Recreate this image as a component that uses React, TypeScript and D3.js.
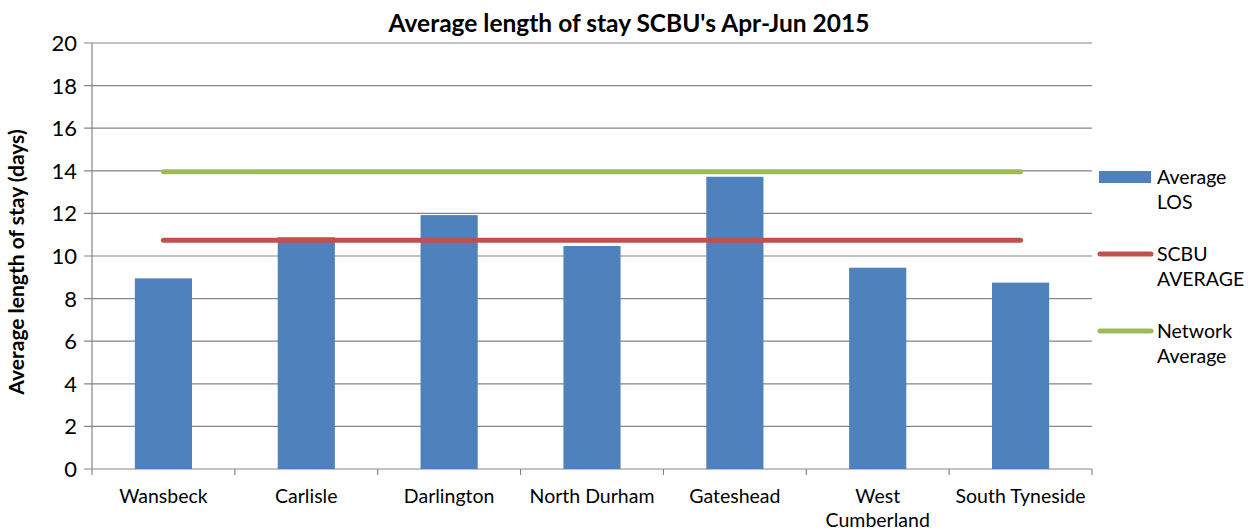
import * as d3 from "d3";

const units = ["Wansbeck", "Carlisle", "Darlington", "North Durham", "Gateshead", "West Cumberland", "South Tyneside"];
const avgLos = [8.95, 10.88, 11.92, 10.47, 13.72, 9.45, 8.75];
const scbuAverage = [10.74, 10.74, 10.74, 10.74, 10.74, 10.74, 10.74];
const networkAverage = [13.95, 13.95, 13.95, 13.95, 13.95, 13.95, 13.95];
const yTicks = [0, 2, 4, 6, 8, 10, 12, 14, 16, 18, 20];

const width = 1248;
const height = 532;
const marginLeft = 92;
const marginRight = 156;
const marginTop = 43;
const marginBottom = 63;
const font = "Lato, 'Open Sans', sans-serif";

export default function App() {
  const x = d3.scaleBand<string>()
    .domain(units)
    .range([marginLeft, width - marginRight])
    .paddingInner(0.6)
    .paddingOuter(0.3);
  const xs = d3.scaleBand<string>().domain(units).range([marginLeft, width - marginRight]);

  const y = d3.scaleLinear([0, 20], [height - marginBottom, marginTop]);

  const line = d3.line<number>()
    .x((_, i) => xs(units[i])! + xs.bandwidth() / 2)
    .y(d => y(d));

  const x0 = marginLeft, x1 = width - marginRight;

  return (
    <svg width={width} height={height} style={{ position: "absolute", left: 0, top: 0, background: "white" }}>
      <text x={629} y={32} textAnchor="middle" fontFamily={font} fontWeight="bold" fontSize={24.5}>
        Average length of stay SCBU's Apr-Jun 2015
      </text>

      {/* grid + y ticks */}
      {yTicks.map(t => (
        <g key={t}>
          <line x1={x0 - 8} x2={x1} y1={y(t)} y2={y(t)} stroke="#868686" strokeWidth={1.2} />
          <text x={77} y={y(t) + 8} textAnchor="end" fontFamily={font} fontSize={22}>{t}</text>
        </g>
      ))}
      <line x1={x0} x2={x0} y1={y(20)} y2={y(0)} stroke="#868686" strokeWidth={1.2} />

      {/* x ticks */}
      {units.map(u => (
        <line key={u} x1={xs(u)!} x2={xs(u)!} y1={y(0)} y2={y(0) + 6} stroke="#868686" strokeWidth={1.2} />
      ))}
      <line x1={x1} x2={x1} y1={y(0)} y2={y(0) + 6} stroke="#868686" strokeWidth={1.2} />

      {/* bars */}
      {units.map((u, i) => (
        <rect key={u} x={x(u)} y={y(avgLos[i])} width={x.bandwidth()} height={y(0) - y(avgLos[i])} fill="#4F81BD" />
      ))}

      <path d={line(scbuAverage)!} fill="none" stroke="#C0504D" strokeWidth={5} strokeLinecap="round" />
      <path d={line(networkAverage)!} fill="none" stroke="#9BBB59" strokeWidth={5} strokeLinecap="round" />

      {/* x labels */}
      {units.map(u => {
        const cx = xs(u)! + xs.bandwidth() / 2;
        const parts = u === "West Cumberland" ? ["West", "Cumberland"] : [u];
        return (
          <text key={u} x={cx} y={503} textAnchor="middle" fontFamily={font} fontSize={19.5}>
            {parts.map((p, j) => (
              <tspan key={p} x={cx} dy={j === 0 ? 0 : 24}>{p}</tspan>
            ))}
          </text>
        );
      })}

      <text transform={`translate(24,262) rotate(-90)`} textAnchor="middle" fontFamily={font} fontWeight="bold" fontSize={21}>
        Average length of stay (days)
      </text>

      {/* legend */}
      <rect x={1099} y={171} width={52} height={12} fill="#4F81BD" />
      <text x={1157} y={184} fontFamily={font} fontSize={19.5}>
        <tspan x={1157}>Average</tspan>
        <tspan x={1157} dy={25}>LOS</tspan>
      </text>
      <line x1={1100} x2={1151} y1={254} y2={254} stroke="#C0504D" strokeWidth={5} strokeLinecap="round" />
      <text x={1157} y={261} fontFamily={font} fontSize={19.5}>
        <tspan x={1157}>SCBU</tspan>
        <tspan x={1157} dy={25}>AVERAGE</tspan>
      </text>
      <line x1={1100} x2={1151} y1={331} y2={331} stroke="#9BBB59" strokeWidth={5} strokeLinecap="round" />
      <text x={1157} y={338} fontFamily={font} fontSize={19.5}>
        <tspan x={1157}>Network</tspan>
        <tspan x={1157} dy={25}>Average</tspan>
      </text>
    </svg>
  );
}
